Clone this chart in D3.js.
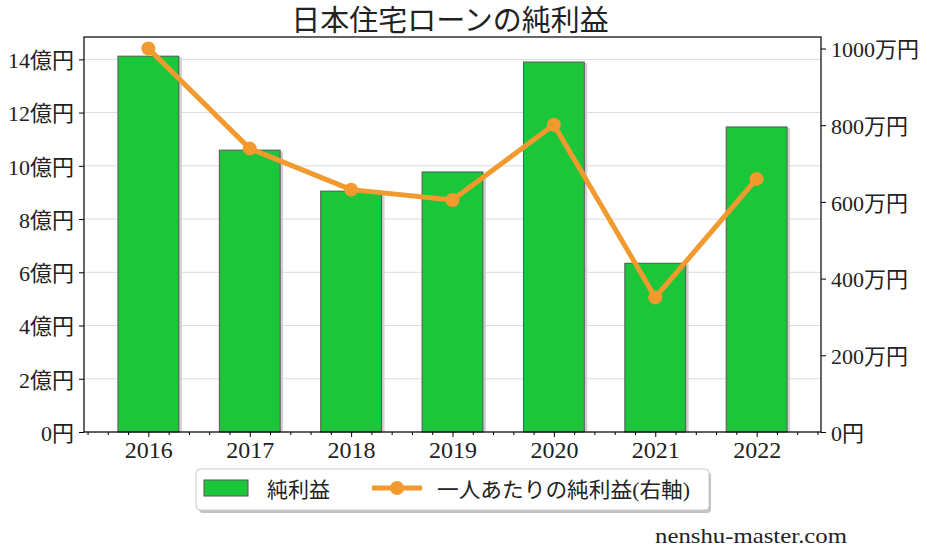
<!DOCTYPE html>
<html><head><meta charset="utf-8">
<script src="https://cdn.jsdelivr.net/npm/d3@7"></script>
<style>body{margin:0;background:#fff}svg{display:block}</style>
</head><body><svg id="c" width="927" height="555"></svg>
<script>
const years = ["2016","2017","2018","2019","2020","2021","2022"];
const profit = [14.12, 10.59, 9.05, 9.77, 13.9, 6.34, 11.46]; // 億円
const perPerson = [1000, 739, 632, 605, 801, 351, 660]; // 万円
const leftTicks = [0,2,4,6,8,10,12,14];
const rightTicks = [0,200,400,600,800,1000];
const title = "日本住宅ローンの純利益";
const legendLabels = ["純利益","一人あたりの純利益(右軸)"];
const credit = "nenshu-master.com";

const font = "'Liberation Serif','Noto Sans CJK JP',serif";
const green = "#1bc63b", orange = "#f39a2e";
const L=84, R=821, T=37, B=432;
const svg = d3.select("#c");
const x = d3.scaleLinear().domain([-0.635, years.length-1+0.635]).range([L,R]);
const yL = d3.scaleLinear().domain([0,14.84]).range([B,T]);
const yR = d3.scaleLinear().domain([0,1030]).range([B,T]);

// grid
svg.append("g").selectAll("line").data(leftTicks).join("line")
 .attr("x1",L).attr("x2",R).attr("y1",d=>yL(d)).attr("y2",d=>yL(d))
 .attr("stroke","#dcdcdc").attr("stroke-width",1);

const bw = 0.6*(x(1)-x(0));
// shadows
svg.append("g").selectAll("rect").data(profit).join("rect")
 .attr("x",(d,i)=>x(i)-bw/2+3).attr("y",d=>yL(d)+1).attr("width",bw).attr("height",d=>B-yL(d)-1)
 .attr("fill","#d0d0d0");
svg.append("g").selectAll("rect").data(profit).join("rect")
 .attr("x",(d,i)=>x(i)-bw/2).attr("y",d=>yL(d)).attr("width",bw).attr("height",d=>B-yL(d))
 .attr("fill",green).attr("stroke","#555").attr("stroke-width",1);

// line
svg.append("path").datum(perPerson)
 .attr("d",d3.line().x((d,i)=>x(i)).y(d=>yR(d)))
 .attr("fill","none").attr("stroke",orange).attr("stroke-width",5).attr("stroke-linejoin","round");
svg.append("g").selectAll("circle").data(perPerson).join("circle")
 .attr("cx",(d,i)=>x(i)).attr("cy",d=>yR(d)).attr("r",7).attr("fill",orange);

// frame
svg.append("rect").attr("x",L).attr("y",T).attr("width",R-L).attr("height",B-T)
 .attr("fill","none").attr("stroke","#000").attr("stroke-width",1.2);

// axes
const ax = svg.append("g").attr("transform",`translate(0,${B})`)
 .call(d3.axisBottom(x).tickValues(d3.range(years.length)).tickFormat(i=>years[i]).tickSize(5).tickSizeOuter(0));
const minor = d3.range(-3,years.length*5+3).map(k=>k*0.2).filter(v=>v>=-0.635&&v<=years.length-1+0.635 && Math.abs(v-Math.round(v))>1e-6);
svg.append("g").attr("transform",`translate(0,${B})`)
 .call(d3.axisBottom(x).tickValues(minor).tickFormat("").tickSize(3).tickSizeOuter(0))
 .call(g=>g.select(".domain").remove());
const al = svg.append("g").attr("transform",`translate(${L},0)`)
 .call(d3.axisLeft(yL).tickValues(leftTicks).tickFormat(d=>d===0?"0円":d+"億円").tickSize(5).tickSizeOuter(0));
const ar = svg.append("g").attr("transform",`translate(${R},0)`)
 .call(d3.axisRight(yR).tickValues(rightTicks).tickFormat(d=>d===0?"0円":d+"万円").tickSize(5).tickSizeOuter(0));
[ax,al,ar].forEach(g=>{
  g.selectAll(".domain").remove();
  g.selectAll("text").attr("font-family",font).attr("font-size",22).attr("fill","#222");
  g.selectAll("line").attr("stroke","#000");
});
ax.selectAll("text").attr("font-size",24).attr("y",0).attr("dy",null).attr("transform","translate(0,26)");
al.selectAll("text").attr("dx","-2").attr("dy","0.38em");
ar.selectAll("text").attr("dx","2").attr("dy","0.38em");

// title
svg.append("text").attr("x",450).attr("y",31).attr("text-anchor","middle")
 .attr("font-family",font).attr("font-size",29).attr("fill","#222").text(title);

// legend
const lg = svg.append("g");
lg.append("rect").attr("x",199).attr("y",472).attr("width",512).attr("height",41).attr("rx",4)
 .attr("fill","#999").attr("opacity",0.6);
lg.append("rect").attr("x",196).attr("y",469).attr("width",513).attr("height",41).attr("rx",4)
 .attr("fill","#fff").attr("stroke","#ccc").attr("stroke-width",1);
lg.append("rect").attr("x",204).attr("y",480).attr("width",44).attr("height",16)
 .attr("fill",green).attr("stroke","#555");
lg.append("text").attr("x",267).attr("y",497).attr("font-family",font).attr("font-size",21).attr("fill","#222")
 .attr("textLength",63).attr("lengthAdjust","spacingAndGlyphs").text(legendLabels[0]);
lg.append("line").attr("x1",372).attr("x2",422).attr("y1",488).attr("y2",488).attr("stroke",orange).attr("stroke-width",5);
lg.append("circle").attr("cx",397).attr("cy",488).attr("r",7).attr("fill",orange);
lg.append("text").attr("x",437).attr("y",497).attr("font-family",font).attr("font-size",21).attr("fill","#222")
 .attr("textLength",253).attr("lengthAdjust","spacingAndGlyphs").text(legendLabels[1]);

svg.append("text").attr("x",655).attr("y",543)
 .attr("font-family",font).attr("font-size",22).attr("fill","#222")
 .attr("textLength",192).attr("lengthAdjust","spacingAndGlyphs").text(credit);
</script></body></html>
